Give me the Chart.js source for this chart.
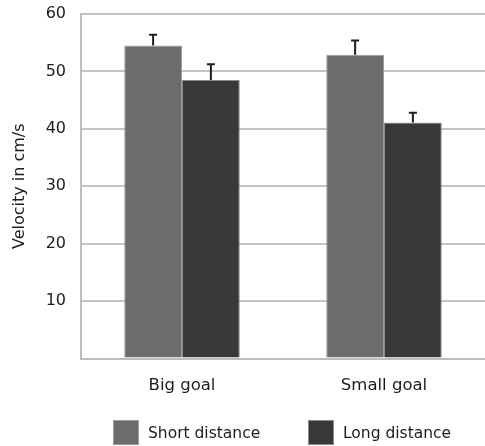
<!DOCTYPE html>
<html>
<head>
<meta charset="utf-8">
<script src="https://cdn.jsdelivr.net/npm/chart.js@4/dist/chart.umd.min.js"></script>
<style>
  html, body { margin: 0; padding: 0; background: #ffffff; }
  #wrap { position: relative; width: 485px; height: 446px; }
  #chart { display: block; }
  #legend {
    position: absolute; left: 0; top: 420px; width: 485px; height: 25px;
    font-family: "DejaVu Sans", sans-serif; font-size: 15.5px; color: #1c1c1c;
  }
  #legend .item { position: absolute; top: 0; height: 25px; display: flex; align-items: center; white-space: nowrap; }
  #legend .swatch { width: 26px; height: 25px; margin-right: 9px; box-sizing: border-box; }
</style>
</head>
<body>
<div id="wrap">
  <canvas id="chart" width="485" height="446"></canvas>
  <div id="legend"></div>
</div>
<script>
// Mean velocity per goal size, with the upper half of the error bar
const categories = ['Big goal', 'Small goal'];
const shortDistance = [54.5, 52.9];
const longDistance = [48.5, 41.1];
const shortDistanceError = [1.9, 2.5];
const longDistanceError = [2.75, 1.7];
const yTicks = [10, 20, 30, 40, 50, 60];

const FONT = '"DejaVu Sans", sans-serif';
const TEXT = '#1c1c1c';

// Upward error whiskers with a small cap, placed via the chart's scales
const errorBars = {
  id: 'errorBars',
  afterDatasetsDraw(chart) {
    const ctx = chart.ctx;
    const yScale = chart.scales.y;
    chart.data.datasets.forEach((ds, i) => {
      const meta = chart.getDatasetMeta(i);
      meta.data.forEach((bar, j) => {
        const top = yScale.getPixelForValue(ds.data[j] + ds.errors[j]);
        const x = bar.x;
        ctx.save();
        ctx.strokeStyle = '#1e1e1e';
        ctx.lineWidth = 2;
        ctx.beginPath();
        ctx.moveTo(x, bar.y);
        ctx.lineTo(x, top);
        ctx.moveTo(x - 4, top);
        ctx.lineTo(x + 4, top);
        ctx.stroke();
        ctx.restore();
      });
    });
  }
};

// Legend rendered as HTML from the chart's datasets
const legendLeft = [113, 308];
const htmlLegend = {
  id: 'htmlLegend',
  afterUpdate(chart) {
    const box = document.getElementById('legend');
    box.innerHTML = '';
    chart.data.datasets.forEach((ds, i) => {
      const item = document.createElement('div');
      item.className = 'item';
      item.style.left = legendLeft[i] + 'px';
      const sw = document.createElement('span');
      sw.className = 'swatch';
      sw.style.background = ds.backgroundColor;
      sw.style.border = '1px solid ' + ds.borderColor;
      const label = document.createElement('span');
      label.textContent = ds.label;
      item.appendChild(sw);
      item.appendChild(label);
      box.appendChild(item);
    });
  }
};

new Chart(document.getElementById('chart'), {
  type: 'bar',
  data: {
    labels: categories,
    datasets: [
      {
        label: 'Short distance',
        data: shortDistance,
        errors: shortDistanceError,
        backgroundColor: '#6c6c6c',
        borderColor: '#9c9c9c',
        borderWidth: 1
      },
      {
        label: 'Long distance',
        data: longDistance,
        errors: longDistanceError,
        backgroundColor: '#383838',
        borderColor: '#8a8a8a',
        borderWidth: 1
      }
    ]
  },
  options: {
    responsive: false,
    animation: false,
    devicePixelRatio: 1,
    layout: { padding: { top: 14, right: 0, left: 0, bottom: 0 } },
    datasets: {
      bar: { categoryPercentage: 0.572, barPercentage: 1.0 }
    },
    plugins: {
      tooltip: { enabled: false },
      legend: { display: false }
    },
    scales: {
      x: {
        grid: { display: false, drawTicks: false },
        border: { display: true, color: '#bdbdbd', width: 2 },
        ticks: {
          color: TEXT,
          padding: 17,
          font: { family: FONT, size: 16.5 }
        },
        afterFit(scale) { scale.height = 87.5; }
      },
      y: {
        min: 0,
        max: 60,
        grid: { color: '#c4c4c4', lineWidth: 2, drawTicks: false },
        border: { display: true, color: '#bdbdbd', width: 2 },
        afterBuildTicks(scale) {
          scale.ticks = [0].concat(yTicks).map(v => ({ value: v }));
        },
        ticks: {
          color: TEXT,
          padding: 15,
          font: { family: FONT, size: 16 },
          callback: v => (v === 0 ? '' : String(v))
        },
        title: {
          display: true,
          text: 'Velocity in cm/s',
          color: TEXT,
          font: { family: FONT, size: 16 },
          padding: { top: 10, bottom: 0 }
        },
        afterFit(scale) {
          // fixed axis width; the plot's top comes from the layout padding alone
          scale.width = 81;
          scale.paddingTop = 0;
          scale.paddingBottom = 0;
        }
      }
    }
  },
  plugins: [errorBars, htmlLegend]
});
</script>
</body>
</html>
